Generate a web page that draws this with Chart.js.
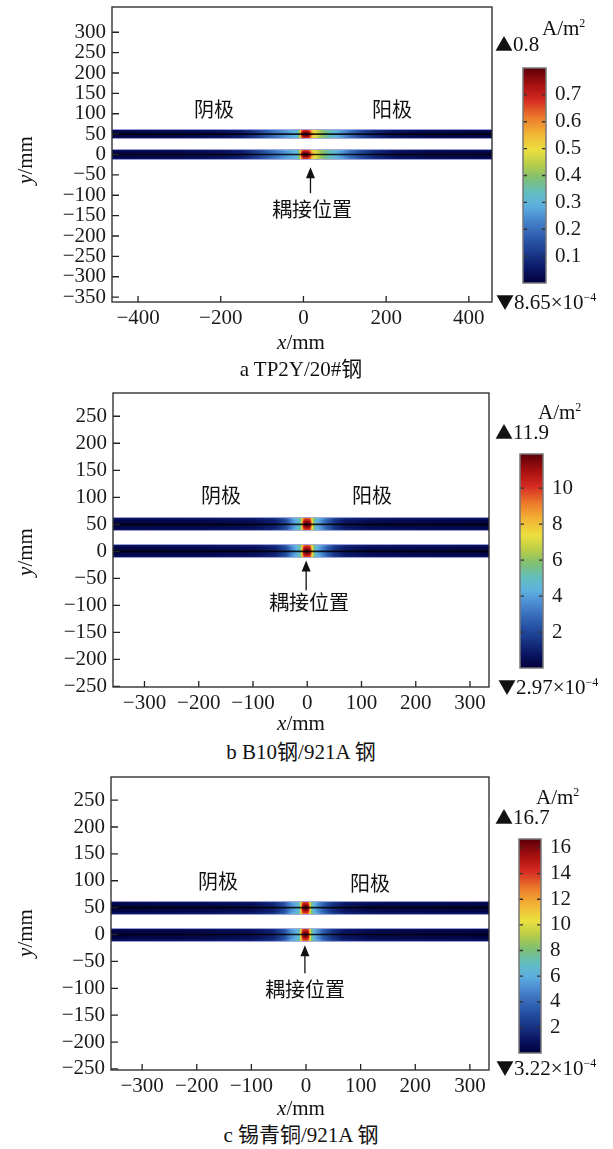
<!DOCTYPE html>
<html><head><meta charset="utf-8">
<script src="https://cdn.jsdelivr.net/npm/chart.js@4.4.1/dist/chart.umd.min.js"></script>
<style>
body{margin:0;background:#fff;width:613px;height:1149px;position:relative;overflow:hidden;font-family:"Liberation Serif","Times New Roman","Noto Sans CJK SC",serif;color:#111}
canvas{position:absolute}
.t{position:absolute;white-space:nowrap;font-size:20px;line-height:1;transform:translate(-50%,-50%)}
.n{font-size:21px}
.l{position:absolute;white-space:nowrap;font-size:21px;line-height:1;transform:translate(0,-50%)}
.rot{transform:translate(-50%,-50%) rotate(-90deg)}
.sp{font-size:12px;position:relative;top:-8px}
.tri{font-family:"Noto Sans CJK SC",sans-serif;font-size:18px;display:inline-block;margin-right:0;margin-left:-2px}
</style></head>
<body>
<canvas id="mA" style="left:0;top:0" width="500" height="335"></canvas>
<canvas id="cA" style="left:500px;top:0" width="113" height="320"></canvas>
<canvas id="mB" style="left:0;top:385px" width="500" height="335"></canvas>
<canvas id="cB" style="left:500px;top:385px" width="113" height="335"></canvas>
<canvas id="mC" style="left:0;top:765px" width="500" height="340"></canvas>
<canvas id="cC" style="left:500px;top:765px" width="113" height="340"></canvas>

<!-- panel a texts -->
<div class="t" style="left:214px;top:110px">阴极</div>
<div class="t" style="left:392px;top:110px">阳极</div>
<div class="t" style="left:312px;top:210px">耦接位置</div>
<div class="t n rot" style="left:25px;top:160px"><i>y</i>/mm</div>
<div class="t n" style="left:301px;top:342px"><i>x</i>/mm</div>
<div class="t n" style="left:301px;top:369px">a TP2Y/20#钢</div>
<div class="l" style="left:542px;top:28px">A/m<span class="sp">2</span></div>
<div class="l" style="left:497px;top:44px"><span class="tri">▲</span>0.8</div>
<div class="l" style="left:498px;top:302px"><span class="tri">▼</span>8.65×10<span class="sp">−4</span></div>

<!-- panel b texts -->
<div class="t" style="left:221px;top:496px">阴极</div>
<div class="t" style="left:372px;top:496px">阳极</div>
<div class="t" style="left:309px;top:603px">耦接位置</div>
<div class="t n rot" style="left:25px;top:552px"><i>y</i>/mm</div>
<div class="t n" style="left:301px;top:723px"><i>x</i>/mm</div>
<div class="t n" style="left:301px;top:752px">b B10钢/921A 钢</div>
<div class="l" style="left:538px;top:412px">A/m<span class="sp">2</span></div>
<div class="l" style="left:497px;top:432px"><span class="tri">▲</span>11.9</div>
<div class="l" style="left:500px;top:687px"><span class="tri">▼</span>2.97×10<span class="sp">−4</span></div>

<!-- panel c texts -->
<div class="t" style="left:218px;top:882px">阴极</div>
<div class="t" style="left:370px;top:884px">阳极</div>
<div class="t" style="left:305px;top:990px">耦接位置</div>
<div class="t n rot" style="left:25px;top:933px"><i>y</i>/mm</div>
<div class="t n" style="left:301px;top:1108px"><i>x</i>/mm</div>
<div class="t n" style="left:301px;top:1135px">c 锡青铜/921A 钢</div>
<div class="l" style="left:536px;top:797px">A/m<span class="sp">2</span></div>
<div class="l" style="left:497px;top:817px"><span class="tri">▲</span>16.7</div>
<div class="l" style="left:498px;top:1068px"><span class="tri">▼</span>3.22×10<span class="sp">−4</span></div>

<script>
// ---------------- DATA ----------------
const xTicksA = [-400, -200, 0, 200, 400];
const yTicksA = [300, 250, 200, 150, 100, 50, 0, -50, -100, -150, -200, -250, -300, -350];
const xTicksBC = [-300, -200, -100, 0, 100, 200, 300];
const yTicksBC = [250, 200, 150, 100, 50, 0, -50, -100, -150, -200, -250];
const xRangeA = [-463, 456], yRangeA = [-362, 362];
const xRangeB = [-358, 335], yRangeB = [-251, 293];
const xRangeC = [-357, 335], yRangeC = [-252, 293];
const pipeCenterY = [0, 50];      // mm, the two pipes
const pipeRadius = 13;            // mm
// current density along each pipe (x in mm, J in A/m2)
const profileXA = [-463, -300, -200, -150, -120, -90, -60, -35, -15, -9, -5, 0, 10, 16, 20, 26, 35, 45, 60, 76, 95, 115, 140, 170, 220, 300, 456];
const profileJA = [0.015, 0.02, 0.035, 0.06, 0.10, 0.16, 0.22, 0.27, 0.30, 0.45, 0.70, 0.80, 0.80, 0.72, 0.60, 0.52, 0.47, 0.41, 0.35, 0.30, 0.25, 0.19, 0.13, 0.08, 0.04, 0.02, 0.015];
const profileXB = [-358, -200, -100, -60, -40, -28, -18, -12, -9, -6, 0, 5, 8, 11, 16, 24, 34, 50, 70, 120, 335];
const profileJB = [0.2, 0.3, 0.5, 1.0, 2.0, 3.5, 4.5, 5.5, 9.0, 11.5, 11.9, 11.5, 9.0, 6.5, 4.5, 3.8, 2.8, 1.5, 0.8, 0.4, 0.2];
const profileXC = [-357, -200, -100, -60, -40, -28, -18, -12, -9, -6, 0, 4, 7, 10, 15, 22, 32, 48, 70, 120, 335];
const profileJC = [0.2, 0.4, 0.7, 1.5, 3.0, 5.0, 6.0, 7.0, 12.0, 16.0, 16.7, 16.0, 12.0, 8.0, 6.0, 5.0, 3.5, 2.0, 1.0, 0.5, 0.2];
// coupling arrow: [x, tipY, tailY] in mm
const arrowA = [17, -31, -95];
const arrowB = [-2, -17, -72];
const arrowC = [-2, -20, -72];
// colour bars
const cbTicksA = [0.1, 0.2, 0.3, 0.4, 0.5, 0.6, 0.7];
const cbTicksB = [2, 4, 6, 8, 10];
const cbTicksC = [2, 4, 6, 8, 10, 12, 14, 16];
const cbMinA = 8.65e-4, cbMaxA = 0.8;
const cbMinB = 2.97e-4, cbMaxB = 11.9;
const cbMinC = 3.22e-4, cbMaxC = 16.7;

// ---------------- COLOUR MAP ----------------
const cmapStops = [
  [0.00, '#00003c'], [0.06, '#0a1460'], [0.14, '#1a3a8c'], [0.22, '#2f5fb0'],
  [0.30, '#4a8ad0'], [0.36, '#5eb0e0'], [0.42, '#62bdc0'], [0.49, '#80c070'],
  [0.55, '#b8cc48'], [0.62, '#ece040'], [0.70, '#f2b034'], [0.77, '#ec7a2c'],
  [0.85, '#d42a22'], [0.92, '#a81010'], [1.00, '#5a0008']
].map(([t, h]) => [t, parseInt(h.slice(1, 3), 16), parseInt(h.slice(3, 5), 16), parseInt(h.slice(5, 7), 16)]);
function cmap(t) {
  t = Math.max(0, Math.min(1, t));
  for (let i = 1; i < cmapStops.length; i++) {
    const a = cmapStops[i - 1], b = cmapStops[i];
    if (t <= b[0]) {
      const f = (t - a[0]) / (b[0] - a[0]);
      return 'rgb(' + Math.round(a[1] + f * (b[1] - a[1])) + ',' + Math.round(a[2] + f * (b[2] - a[2])) + ',' + Math.round(a[3] + f * (b[3] - a[3])) + ')';
    }
  }
  return 'rgb(90,0,8)';
}
function lookup(xs, ys, v) {
  if (v <= xs[0]) return ys[0];
  for (let i = 1; i < xs.length; i++) {
    if (v <= xs[i]) { const f = (v - xs[i - 1]) / (xs[i] - xs[i - 1]); return ys[i - 1] + f * (ys[i] - ys[i - 1]); }
  }
  return ys[ys.length - 1];
}

const FONT = { family: "'Liberation Serif','Times New Roman',serif", size: 21 };
const INK = '#1a1a1a';
const minus = v => String(v).replace('-', '\u2212');

// ---------------- PLUGINS ----------------
const heatPlugin = {
  id: 'heat',
  beforeDatasetsDraw(chart, args, o) {
    const { ctx, chartArea: ca, scales: { x, y } } = chart;
    ctx.save();
    ctx.beginPath(); ctx.rect(ca.left, ca.top, ca.width, ca.height); ctx.clip();
    for (const yc of pipeCenterY) {
      const yTop = y.getPixelForValue(yc + pipeRadius), yBot = y.getPixelForValue(yc - pipeRadius);
      const r0 = Math.round(yTop), r1 = Math.round(yBot);
      for (let px = Math.floor(ca.left); px < ca.right; px++) {
        const j = lookup(o.px, o.pj, x.getValueForPixel(px + 0.5)) / o.max;
        for (let r = r0; r < r1; r++) {
          const u = Math.abs((y.getValueForPixel(r + 0.5) - yc) / pipeRadius);
          // rounded hot spot (falls off toward the pipe edge), slightly bluer rim
          const hot = Math.max(0, j - 0.4);
          const t = j - hot * 0.55 * u * u + 0.07 * Math.max(0, u - 0.55) / 0.45;
          ctx.fillStyle = cmap(t);
          ctx.fillRect(px, r, 1, 1);
        }
      }
      ctx.fillStyle = 'rgba(170,170,225,0.9)';
      ctx.fillRect(ca.left, r0, ca.width, 1);
      ctx.fillRect(ca.left, r1 - 1, ca.width, 1);
    }
    ctx.restore();
  },
  afterDraw(chart, args, o) {
    const { ctx, chartArea: ca, scales: { x, y } } = chart;
    ctx.save();
    ctx.strokeStyle = '#222'; ctx.lineWidth = 1.3;
    ctx.beginPath();
    for (const t of x.ticks) { const p = x.getPixelForValue(t.value); ctx.moveTo(p, ca.bottom); ctx.lineTo(p, ca.bottom - 6); }
    for (const t of y.ticks) { const p = y.getPixelForValue(t.value); ctx.moveTo(ca.left, p); ctx.lineTo(ca.left + 7, p); }
    ctx.stroke();
    ctx.strokeStyle = '#333'; ctx.lineWidth = 1.4;
    ctx.strokeRect(ca.left, ca.top, ca.width, ca.height);
    // arrow
    const ax = x.getPixelForValue(o.arrow[0]), tip = y.getPixelForValue(o.arrow[1]), tail = y.getPixelForValue(o.arrow[2]);
    ctx.strokeStyle = '#111'; ctx.fillStyle = '#111'; ctx.lineWidth = 1.3;
    ctx.beginPath(); ctx.moveTo(ax, tail); ctx.lineTo(ax, tip + 8); ctx.stroke();
    ctx.beginPath(); ctx.moveTo(ax, tip); ctx.lineTo(ax - 4.5, tip + 11); ctx.lineTo(ax + 4.5, tip + 11); ctx.closePath(); ctx.fill();
    ctx.restore();
  }
};

function mainChart(id, xr, yr, xt, yt, px, pj, max, arrow, padTop, axisW, axisH) {
  const el = document.getElementById(id);
  return new Chart(el, {
    type: 'line',
    data: {
      datasets: pipeCenterY.map(yc => ({
        data: [{ x: xr[0], y: yc }, { x: xr[1], y: yc }],
        borderColor: 'rgba(0,0,0,0.85)', borderWidth: 1.6, pointRadius: 0, fill: false
      }))
    },
    options: {
      responsive: false, animation: false, events: [],
      layout: { padding: { top: padTop, right: el.width - axisW.right, left: 0, bottom: 0 } },
      plugins: { legend: { display: false }, tooltip: { enabled: false },
        heat: { px, pj, max, arrow } },
      scales: {
        x: { type: 'linear', min: xr[0], max: xr[1],
          afterBuildTicks: s => { s.ticks = xt.map(v => ({ value: v })); },
          afterFit: s => { s.height = axisH; s.paddingLeft = 0; s.paddingRight = 0; },
          grid: { display: false, drawTicks: false }, border: { display: false },
          ticks: { font: FONT, color: INK, padding: 4, maxRotation: 0, autoSkip: false, callback: minus } },
        y: { type: 'linear', min: yr[0], max: yr[1],
          afterBuildTicks: s => { s.ticks = yt.map(v => ({ value: v })); },
          afterFit: s => { s.width = axisW.left; s.paddingTop = 0; s.paddingBottom = 0; },
          grid: { display: false, drawTicks: false }, border: { display: false },
          ticks: { font: FONT, color: INK, padding: 6, autoSkip: false, callback: minus } }
      }
    },
    plugins: [heatPlugin]
  });
}

const cbPlugin = {
  id: 'cbar',
  afterDatasetsDraw(chart) {
    const { ctx, chartArea: ca, scales: { y } } = chart;
    ctx.save();
    ctx.strokeStyle = '#333'; ctx.lineWidth = 1.3;
    ctx.beginPath();
    for (const t of y.ticks) {
      const p = y.getPixelForValue(t.value);
      ctx.moveTo(ca.left, p); ctx.lineTo(ca.left + 4, p);
      ctx.moveTo(ca.right, p); ctx.lineTo(ca.right - 4, p);
    }
    ctx.stroke();
    ctx.strokeStyle = '#777'; ctx.lineWidth = 1.5;
    const top = y.getPixelForValue(y.max), bot = y.getPixelForValue(0);
    ctx.strokeRect(ca.left, top, ca.width, bot - top);
    ctx.restore();
  }
};

function colorBar(id, minV, maxV, ticks, padL, padT, padB, axisW) {
  const el = document.getElementById(id);
  return new Chart(el, {
    type: 'bar',
    data: { labels: [''], datasets: [{
      data: [[minV, maxV]], borderWidth: 0, barPercentage: 1, categoryPercentage: 1,
      backgroundColor: c => {
        const ch = c.chart, ys = ch.scales.y;
        if (!ch.chartArea || !ys) return '#1a3a8c';
        const g = ch.ctx.createLinearGradient(0, ys.getPixelForValue(0), 0, ys.getPixelForValue(maxV));
        for (let i = 0; i <= 60; i++) g.addColorStop(i / 60, cmap(i / 60));
        return g;
      }
    }] },
    options: {
      responsive: false, animation: false, events: [],
      layout: { padding: { left: padL, top: padT, bottom: padB, right: 0 } },
      plugins: { legend: { display: false }, tooltip: { enabled: false } },
      scales: {
        x: { display: false },
        y: { position: 'right', min: 0, max: maxV,
          afterBuildTicks: s => { s.ticks = ticks.map(v => ({ value: v })); },
          afterFit: s => { s.width = axisW; s.paddingTop = 0; s.paddingBottom = 0; },
          grid: { display: false, drawTicks: false }, border: { display: false },
          ticks: { font: FONT, color: INK, padding: 9, autoSkip: false } }
      }
    },
    plugins: [cbPlugin]
  });
}

mainChart('mA', xRangeA, yRangeA, xTicksA, yTicksA, profileXA, profileJA, cbMaxA, arrowA, 7, { left: 112, right: 492 }, 335 - 302);
mainChart('mB', xRangeB, yRangeB, xTicksBC, yTicksBC, profileXB, profileJB, cbMaxB, arrowB, 8, { left: 113, right: 489 }, 335 - 302);
mainChart('mC', xRangeC, yRangeC, xTicksBC, yTicksBC, profileXC, profileJC, cbMaxC, arrowC, 12, { left: 111, right: 489 }, 340 - 305);

colorBar('cA', cbMinA, cbMaxA, cbTicksA, 23, 68, 37, 67);
colorBar('cB', cbMinB, cbMaxB, cbTicksB, 20, 69, 52, 70);
colorBar('cC', cbMinC, cbMaxC, cbTicksC, 19, 74, 52, 72);
</script>
</body></html>
